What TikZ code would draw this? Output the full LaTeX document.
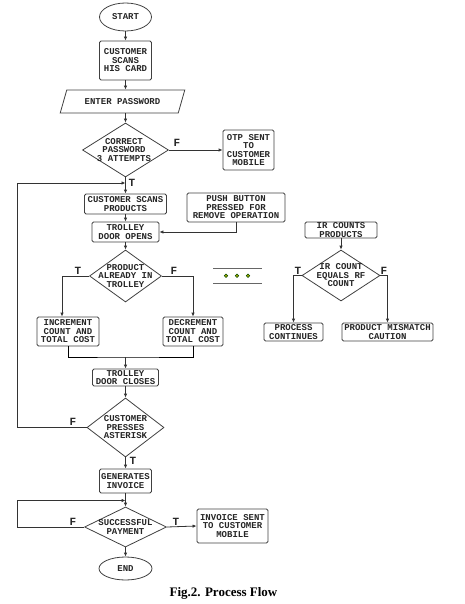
\documentclass[tikz,border=0pt]{standalone}
\usepackage{fontspec}
\setmainfont{Liberation Serif}
\setmonofont{Liberation Mono}
\usepackage{tikz}
\usetikzlibrary{shapes,arrows,positioning,calc,arrows.meta}

\tikzset{
  box/.style={draw=black!75, line width=0.8pt, rounded corners=1.5pt, align=center, inner sep=0pt, text=black!85, font=\ttfamily\bfseries\fontsize{9}{8.5}\selectfont},
  dia/.style={diamond, draw=black!75, line width=0.8pt, inner sep=0pt},
  txt/.style={align=center, inner sep=0pt, text=black!85, font=\ttfamily\bfseries\fontsize{9}{8.5}\selectfont},
  term/.style={ellipse, draw=black!75, line width=0.8pt, inner sep=0pt, text=black!85, font=\ttfamily\bfseries\fontsize{9}{8.5}\selectfont},
  arr/.style={-{Latex[length=4pt,width=3.5pt]}, draw=black!80, line width=0.8pt},
  lbl/.style={inner sep=0pt, text=black!85, font=\ttfamily\bfseries\fontsize{11}{11}\selectfont}
}

\begin{document}
\begin{tikzpicture}[x=1pt, y=-1pt]
    \useasboundingbox (0,0) rectangle (465,604);

    % main column
    \node[term, minimum width=52pt, minimum height=28pt] (start) at (125.5,17) {START};
    \node[box, minimum width=52pt, minimum height=39pt] (card) at (125.5,60.5) {CUSTOMER\\SCANS\\HIS CARD};
    \node[trapezium, trapezium left angle=54, trapezium right angle=126, trapezium stretches=true, draw=black!75, line width=0.8pt, inner sep=0pt, minimum width=125pt, minimum height=23pt, txt] (pwdin) at (122.5,101.5) {ENTER PASSWORD};
    \node[dia, minimum width=86pt, minimum height=54pt] (pwd) at (125.5,150) {};
    \node[txt] (pwdt) at (124,150) {CORRECT\\PASSWORD\\3 ATTEMPTS};
    \node[box, minimum width=51pt, minimum height=40pt] (otp) at (248.5,150) {OTP SENT\\TO\\CUSTOMER\\MOBILE};

    \node[box, minimum width=82pt, minimum height=20pt] (scanp) at (125.5,204) {CUSTOMER SCANS\\PRODUCTS};
    \node[box, minimum width=98pt, minimum height=29pt] (push) at (236,207.5) {PUSH BUTTON\\PRESSED FOR\\REMOVE OPERATION};
    \node[box, minimum width=67pt, minimum height=20pt] (tdo) at (125.5,232) {TROLLEY\\DOOR OPENS};
    \node[dia, minimum width=72pt, minimum height=52pt] (prod) at (125.5,276) {};
    \node[txt] (prodt) at (125.5,276) {PRODUCT\\ALREADY IN\\TROLLEY};
    \node[box, minimum width=62pt, minimum height=29pt] (inc) at (68,331.5) {INCREMENT\\COUNT AND\\TOTAL COST};
    \node[box, minimum width=60pt, minimum height=29pt] (dec) at (193,331.5) {DECREMENT\\COUNT AND\\TOTAL COST};
    \node[box, minimum width=66pt, minimum height=17pt] (tdc) at (125.5,377.5) {TROLLEY\\DOOR CLOSES};
    \node[dia, minimum width=77pt, minimum height=59pt] (ast) at (125.5,427.5) {};
    \node[txt] (astt) at (125.5,427.5) {CUSTOMER\\PRESSES\\ASTERISK};
    \node[box, minimum width=52pt, minimum height=24pt] (inv) at (125.5,481) {GENERATES\\INVOICE};
    \node[dia, minimum width=82pt, minimum height=40pt] (pay) at (125.5,527) {};
    \node[txt] (payt) at (125.5,527) {SUCCESSFUL\\PAYMENT};
    \node[box, minimum width=71pt, minimum height=34pt] (sent) at (232.5,526) {INVOICE SENT\\TO CUSTOMER\\MOBILE};
    \node[term, minimum width=53pt, minimum height=23pt] (end) at (125.5,568.5) {END};

    % IR check
    \node[box, minimum width=72pt, minimum height=16pt] (irc) at (341,230) {IR COUNTS\\PRODUCTS};
    \node[dia, minimum width=78pt, minimum height=51pt] (ir) at (341,275.5) {};
    \node[txt] (irt) at (341,275.5) {IR COUNT\\EQUALS RF\\COUNT};
    \node[box, minimum width=59pt, minimum height=18pt] (proc) at (293.5,332) {PROCESS\\CONTINUES};
    \node[box, minimum width=91pt, minimum height=18pt] (mis) at (387.5,332) {PRODUCT MISMATCH\\CAUTION};

    \coordinate (j1) at (125.5,183);
    \coordinate (jn) at (125.5,357);
    \coordinate (j2) at (125.5,500.5);
    \coordinate (lft) at (17,427.5);
    \coordinate (lft2) at (17,527);

    \draw[arr] (start) -- (card);
    \draw[arr] (card) -- (card.south |- pwdin.north);
    \draw[arr] (card.south |- pwdin.south) -- (pwd.north);
    \draw[arr] (pwd.east) -- (otp.west);
    \draw[arr] (pwd.south) -- (scanp.north);
    \draw[arr] (scanp) -- (tdo);
    \draw[arr] (push.south) |- (tdo.east);
    \draw[arr] (tdo) -- (prod.north);
    \draw[arr] (prod.west) -| ([xshift=-6pt]inc.north);
    \draw[arr] (prod.east) -| (dec.north);
    \draw (inc.south) |- (jn) -| (dec.south);
    \draw[arr] (jn) -- (tdc.north);
    \draw[arr] (tdc) -- (ast.north);
    \draw[arr] (ast.west) -- (lft) |- (j1);
    \draw[arr] (ast.south) -- (inv.north);
    \draw[arr] (inv) -- (pay.north);
    \draw[arr] (pay.west) -- (lft2) |- (j2);
    \draw[arr] (pay.east) -- (sent.west);
    \draw[arr] (pay.south) -- (end.north);
    \draw[arr] (irc) -- (ir.north);
    \draw[arr] (ir.west) -| (proc.north);
    \draw[arr] (ir.east) -| (mis.north);

    \node[lbl] (f1) at (177,143) {F};
    \node[lbl] (t1) at (132,183) {T};
    \node[lbl] (t2) at (78,271) {T};
    \node[lbl] (f2) at (174,271) {F};
    \node[lbl] (t3) at (298,271) {T};
    \node[lbl] (f3) at (384,271) {F};
    \node[lbl] (f4) at (73,422) {F};
    \node[lbl] (t4) at (133,461) {T};
    \node[lbl] (f5) at (73,522) {F};
    \node[lbl] (t5) at (176,522) {T};

    % dots sign
    \draw[black!60, line width=0.7pt] (213,268) -- (262,268) (213,283) -- (262,283);
    \foreach \x in {226,237,248}
        \draw[green!30!black, fill=olive!70!yellow, line width=0.5pt] (\x,275.7) circle (1.8pt);

    \node[font=\bfseries\fontsize{13}{15}\selectfont, anchor=base] (cap) at (223.5,596) {Fig.2. Process Flow};
\end{tikzpicture}
\end{document}
